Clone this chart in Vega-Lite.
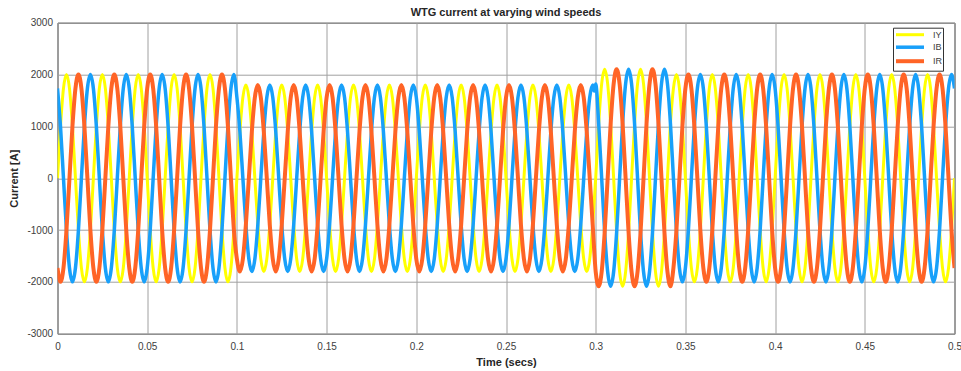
{
  "$schema": "https://vega.github.io/schema/vega-lite/v6.json",
  "width": 897,
  "height": 311,
  "autosize": {"type": "none"},
  "padding": {"left": 57.5, "top": 22.7, "right": 6.5, "bottom": 37.3},
  "background": "white",
  "title": {
    "text": "WTG current at varying wind speeds",
    "font": "Liberation Sans",
    "fontSize": 11,
    "fontWeight": "bold",
    "color": "#262626",
    "anchor": "middle",
    "offset": -0.5
  },
  "data": {
    "values": [
      {"t":0,"IY":0,"IB":1732,"IR":-1732},{"t":0.00167,"IY":1000,"IB":1000,"IR":-2000},{"t":0.00333,"IY":1732,"IB":0,"IR":-1732},{"t":0.005,"IY":2000,"IB":-1000,"IR":-1000},{"t":0.00667,"IY":1732,"IB":-1732,"IR":0},{"t":0.00833,"IY":1000,"IB":-2000,"IR":1000},{"t":0.01,"IY":0,"IB":-1732,"IR":1732},{"t":0.01167,"IY":-1000,"IB":-1000,"IR":2000},{"t":0.01333,"IY":-1732,"IB":0,"IR":1732},{"t":0.015,"IY":-2000,"IB":1000,"IR":1000},{"t":0.01667,"IY":-1732,"IB":1732,"IR":0},{"t":0.01833,"IY":-1000,"IB":2000,"IR":-1000},
      {"t":0.02,"IY":0,"IB":1732,"IR":-1732},{"t":0.02167,"IY":1000,"IB":1000,"IR":-2000},{"t":0.02333,"IY":1732,"IB":0,"IR":-1732},{"t":0.025,"IY":2000,"IB":-1000,"IR":-1000},{"t":0.02667,"IY":1732,"IB":-1732,"IR":0},{"t":0.02833,"IY":1000,"IB":-2000,"IR":1000},{"t":0.03,"IY":0,"IB":-1732,"IR":1732},{"t":0.03167,"IY":-1000,"IB":-1000,"IR":2000},{"t":0.03333,"IY":-1732,"IB":0,"IR":1732},{"t":0.035,"IY":-2000,"IB":1000,"IR":1000},{"t":0.03667,"IY":-1732,"IB":1732,"IR":0},{"t":0.03833,"IY":-1000,"IB":2000,"IR":-1000},
      {"t":0.04,"IY":0,"IB":1732,"IR":-1732},{"t":0.04167,"IY":1000,"IB":1000,"IR":-2000},{"t":0.04333,"IY":1732,"IB":0,"IR":-1732},{"t":0.045,"IY":2000,"IB":-1000,"IR":-1000},{"t":0.04667,"IY":1732,"IB":-1732,"IR":0},{"t":0.04833,"IY":1000,"IB":-2000,"IR":1000},{"t":0.05,"IY":0,"IB":-1732,"IR":1732},{"t":0.05167,"IY":-1000,"IB":-1000,"IR":2000},{"t":0.05333,"IY":-1732,"IB":0,"IR":1732},{"t":0.055,"IY":-2000,"IB":1000,"IR":1000},{"t":0.05667,"IY":-1732,"IB":1732,"IR":0},{"t":0.05833,"IY":-1000,"IB":2000,"IR":-1000},
      {"t":0.06,"IY":0,"IB":1732,"IR":-1732},{"t":0.06167,"IY":1000,"IB":1000,"IR":-2000},{"t":0.06333,"IY":1732,"IB":0,"IR":-1732},{"t":0.065,"IY":2000,"IB":-1000,"IR":-1000},{"t":0.06667,"IY":1732,"IB":-1732,"IR":0},{"t":0.06833,"IY":1000,"IB":-2000,"IR":1000},{"t":0.07,"IY":0,"IB":-1732,"IR":1732},{"t":0.07167,"IY":-1000,"IB":-1000,"IR":2000},{"t":0.07333,"IY":-1732,"IB":0,"IR":1732},{"t":0.075,"IY":-2000,"IB":1000,"IR":1000},{"t":0.07667,"IY":-1732,"IB":1732,"IR":0},{"t":0.07833,"IY":-1000,"IB":2000,"IR":-1000},
      {"t":0.08,"IY":0,"IB":1732,"IR":-1732},{"t":0.08167,"IY":1000,"IB":1000,"IR":-2000},{"t":0.08333,"IY":1732,"IB":0,"IR":-1732},{"t":0.085,"IY":2000,"IB":-1000,"IR":-1000},{"t":0.08667,"IY":1732,"IB":-1732,"IR":0},{"t":0.08833,"IY":1000,"IB":-2000,"IR":1000},{"t":0.09,"IY":0,"IB":-1732,"IR":1732},{"t":0.09167,"IY":-1000,"IB":-1000,"IR":2000},{"t":0.09333,"IY":-1732,"IB":0,"IR":1732},{"t":0.095,"IY":-2000,"IB":1000,"IR":1000},{"t":0.09667,"IY":-1732,"IB":1732,"IR":0},{"t":0.09833,"IY":-1000,"IB":2000,"IR":-1000},
      {"t":0.1,"IY":0,"IB":1559,"IR":-1559},{"t":0.10167,"IY":900,"IB":900,"IR":-1800},{"t":0.10333,"IY":1559,"IB":0,"IR":-1559},{"t":0.105,"IY":1800,"IB":-900,"IR":-900},{"t":0.10667,"IY":1559,"IB":-1559,"IR":0},{"t":0.10833,"IY":900,"IB":-1800,"IR":900},{"t":0.11,"IY":0,"IB":-1559,"IR":1559},{"t":0.11167,"IY":-900,"IB":-900,"IR":1800},{"t":0.11333,"IY":-1559,"IB":0,"IR":1559},{"t":0.115,"IY":-1800,"IB":900,"IR":900},{"t":0.11667,"IY":-1559,"IB":1559,"IR":0},{"t":0.11833,"IY":-900,"IB":1800,"IR":-900},
      {"t":0.12,"IY":0,"IB":1559,"IR":-1559},{"t":0.12167,"IY":900,"IB":900,"IR":-1800},{"t":0.12333,"IY":1559,"IB":0,"IR":-1559},{"t":0.125,"IY":1800,"IB":-900,"IR":-900},{"t":0.12667,"IY":1559,"IB":-1559,"IR":0},{"t":0.12833,"IY":900,"IB":-1800,"IR":900},{"t":0.13,"IY":0,"IB":-1559,"IR":1559},{"t":0.13167,"IY":-900,"IB":-900,"IR":1800},{"t":0.13333,"IY":-1559,"IB":0,"IR":1559},{"t":0.135,"IY":-1800,"IB":900,"IR":900},{"t":0.13667,"IY":-1559,"IB":1559,"IR":0},{"t":0.13833,"IY":-900,"IB":1800,"IR":-900},
      {"t":0.14,"IY":0,"IB":1559,"IR":-1559},{"t":0.14167,"IY":900,"IB":900,"IR":-1800},{"t":0.14333,"IY":1559,"IB":0,"IR":-1559},{"t":0.145,"IY":1800,"IB":-900,"IR":-900},{"t":0.14667,"IY":1559,"IB":-1559,"IR":0},{"t":0.14833,"IY":900,"IB":-1800,"IR":900},{"t":0.15,"IY":0,"IB":-1559,"IR":1559},{"t":0.15167,"IY":-900,"IB":-900,"IR":1800},{"t":0.15333,"IY":-1559,"IB":0,"IR":1559},{"t":0.155,"IY":-1800,"IB":900,"IR":900},{"t":0.15667,"IY":-1559,"IB":1559,"IR":0},{"t":0.15833,"IY":-900,"IB":1800,"IR":-900},
      {"t":0.16,"IY":0,"IB":1559,"IR":-1559},{"t":0.16167,"IY":900,"IB":900,"IR":-1800},{"t":0.16333,"IY":1559,"IB":0,"IR":-1559},{"t":0.165,"IY":1800,"IB":-900,"IR":-900},{"t":0.16667,"IY":1559,"IB":-1559,"IR":0},{"t":0.16833,"IY":900,"IB":-1800,"IR":900},{"t":0.17,"IY":0,"IB":-1559,"IR":1559},{"t":0.17167,"IY":-900,"IB":-900,"IR":1800},{"t":0.17333,"IY":-1559,"IB":0,"IR":1559},{"t":0.175,"IY":-1800,"IB":900,"IR":900},{"t":0.17667,"IY":-1559,"IB":1559,"IR":0},{"t":0.17833,"IY":-900,"IB":1800,"IR":-900},
      {"t":0.18,"IY":0,"IB":1559,"IR":-1559},{"t":0.18167,"IY":900,"IB":900,"IR":-1800},{"t":0.18333,"IY":1559,"IB":0,"IR":-1559},{"t":0.185,"IY":1800,"IB":-900,"IR":-900},{"t":0.18667,"IY":1559,"IB":-1559,"IR":0},{"t":0.18833,"IY":900,"IB":-1800,"IR":900},{"t":0.19,"IY":0,"IB":-1559,"IR":1559},{"t":0.19167,"IY":-900,"IB":-900,"IR":1800},{"t":0.19333,"IY":-1559,"IB":0,"IR":1559},{"t":0.195,"IY":-1800,"IB":900,"IR":900},{"t":0.19667,"IY":-1559,"IB":1559,"IR":0},{"t":0.19833,"IY":-900,"IB":1800,"IR":-900},
      {"t":0.2,"IY":0,"IB":1559,"IR":-1559},{"t":0.20167,"IY":900,"IB":900,"IR":-1800},{"t":0.20333,"IY":1559,"IB":0,"IR":-1559},{"t":0.205,"IY":1800,"IB":-900,"IR":-900},{"t":0.20667,"IY":1559,"IB":-1559,"IR":0},{"t":0.20833,"IY":900,"IB":-1800,"IR":900},{"t":0.21,"IY":0,"IB":-1559,"IR":1559},{"t":0.21167,"IY":-900,"IB":-900,"IR":1800},{"t":0.21333,"IY":-1559,"IB":0,"IR":1559},{"t":0.215,"IY":-1800,"IB":900,"IR":900},{"t":0.21667,"IY":-1559,"IB":1559,"IR":0},{"t":0.21833,"IY":-900,"IB":1800,"IR":-900},
      {"t":0.22,"IY":0,"IB":1559,"IR":-1559},{"t":0.22167,"IY":900,"IB":900,"IR":-1800},{"t":0.22333,"IY":1559,"IB":0,"IR":-1559},{"t":0.225,"IY":1800,"IB":-900,"IR":-900},{"t":0.22667,"IY":1559,"IB":-1559,"IR":0},{"t":0.22833,"IY":900,"IB":-1800,"IR":900},{"t":0.23,"IY":0,"IB":-1559,"IR":1559},{"t":0.23167,"IY":-900,"IB":-900,"IR":1800},{"t":0.23333,"IY":-1559,"IB":0,"IR":1559},{"t":0.235,"IY":-1800,"IB":900,"IR":900},{"t":0.23667,"IY":-1559,"IB":1559,"IR":0},{"t":0.23833,"IY":-900,"IB":1800,"IR":-900},
      {"t":0.24,"IY":0,"IB":1559,"IR":-1559},{"t":0.24167,"IY":900,"IB":900,"IR":-1800},{"t":0.24333,"IY":1559,"IB":0,"IR":-1559},{"t":0.245,"IY":1800,"IB":-900,"IR":-900},{"t":0.24667,"IY":1559,"IB":-1559,"IR":0},{"t":0.24833,"IY":900,"IB":-1800,"IR":900},{"t":0.25,"IY":0,"IB":-1559,"IR":1559},{"t":0.25167,"IY":-900,"IB":-900,"IR":1800},{"t":0.25333,"IY":-1559,"IB":0,"IR":1559},{"t":0.255,"IY":-1800,"IB":900,"IR":900},{"t":0.25667,"IY":-1559,"IB":1559,"IR":0},{"t":0.25833,"IY":-900,"IB":1800,"IR":-900},
      {"t":0.26,"IY":0,"IB":1559,"IR":-1559},{"t":0.26167,"IY":900,"IB":900,"IR":-1800},{"t":0.26333,"IY":1559,"IB":0,"IR":-1559},{"t":0.265,"IY":1800,"IB":-900,"IR":-900},{"t":0.26667,"IY":1559,"IB":-1559,"IR":0},{"t":0.26833,"IY":900,"IB":-1800,"IR":900},{"t":0.27,"IY":0,"IB":-1559,"IR":1559},{"t":0.27167,"IY":-900,"IB":-900,"IR":1800},{"t":0.27333,"IY":-1559,"IB":0,"IR":1559},{"t":0.275,"IY":-1800,"IB":900,"IR":900},{"t":0.27667,"IY":-1559,"IB":1559,"IR":0},{"t":0.27833,"IY":-900,"IB":1800,"IR":-900},
      {"t":0.28,"IY":0,"IB":1559,"IR":-1559},{"t":0.28167,"IY":900,"IB":900,"IR":-1800},{"t":0.28333,"IY":1559,"IB":0,"IR":-1559},{"t":0.285,"IY":1800,"IB":-900,"IR":-900},{"t":0.28667,"IY":1559,"IB":-1559,"IR":0},{"t":0.28833,"IY":900,"IB":-1800,"IR":900},{"t":0.29,"IY":0,"IB":-1559,"IR":1559},{"t":0.29167,"IY":-900,"IB":-900,"IR":1800},{"t":0.29333,"IY":-1559,"IB":0,"IR":1559},{"t":0.295,"IY":-1800,"IB":900,"IR":900},{"t":0.29667,"IY":-1559,"IB":1559,"IR":0},{"t":0.29833,"IY":-900,"IB":1800,"IR":-900},
      {"t":0.2992,"IB":1680},
      {"t":0.3,"IY":0,"IB":1819,"IR":-1806},{"t":0.30167,"IY":1050,"IB":1050,"IR":-2085},{"t":0.30333,"IY":1819,"IB":0,"IR":-1806},{"t":0.305,"IY":2100,"IB":-1045,"IR":-1045},{"t":0.30667,"IY":1819,"IB":-1806,"IR":0},{"t":0.30833,"IY":1050,"IB":-2085,"IR":1050},{"t":0.31,"IY":0,"IB":-1806,"IR":1819},{"t":0.31167,"IY":-1045,"IB":-1045,"IR":2100},{"t":0.31333,"IY":-1806,"IB":0,"IR":1819},{"t":0.315,"IY":-2085,"IB":1050,"IR":1050},{"t":0.31667,"IY":-1806,"IB":1819,"IR":0},{"t":0.31833,"IY":-1045,"IB":2100,"IR":-1045},
      {"t":0.32,"IY":0,"IB":1819,"IR":-1806},{"t":0.32167,"IY":1050,"IB":1050,"IR":-2085},{"t":0.32333,"IY":1819,"IB":0,"IR":-1806},{"t":0.325,"IY":2100,"IB":-1045,"IR":-1045},{"t":0.32667,"IY":1819,"IB":-1806,"IR":0},{"t":0.32833,"IY":1050,"IB":-2085,"IR":1050},{"t":0.33,"IY":0,"IB":-1806,"IR":1819},{"t":0.33167,"IY":-1045,"IB":-1045,"IR":2100},{"t":0.33333,"IY":-1806,"IB":0,"IR":1819},{"t":0.335,"IY":-2085,"IB":1050,"IR":1050},{"t":0.33667,"IY":-1806,"IB":1819,"IR":0},{"t":0.33833,"IY":-1045,"IB":2100,"IR":-1045},
      {"t":0.34,"IY":0,"IB":1819,"IR":-1806},{"t":0.34167,"IY":1050,"IB":1050,"IR":-2085},{"t":0.34333,"IY":1732,"IB":0,"IR":-1732},{"t":0.345,"IY":2000,"IB":-1000,"IR":-1000},{"t":0.34667,"IY":1732,"IB":-1732,"IR":0},{"t":0.34833,"IY":1000,"IB":-2000,"IR":1000},{"t":0.35,"IY":0,"IB":-1732,"IR":1732},{"t":0.35167,"IY":-1000,"IB":-1000,"IR":2000},{"t":0.35333,"IY":-1732,"IB":0,"IR":1732},{"t":0.355,"IY":-2000,"IB":1000,"IR":1000},{"t":0.35667,"IY":-1732,"IB":1732,"IR":0},{"t":0.35833,"IY":-1000,"IB":2000,"IR":-1000},
      {"t":0.36,"IY":0,"IB":1732,"IR":-1732},{"t":0.36167,"IY":1000,"IB":1000,"IR":-2000},{"t":0.36333,"IY":1732,"IB":0,"IR":-1732},{"t":0.365,"IY":2000,"IB":-1000,"IR":-1000},{"t":0.36667,"IY":1732,"IB":-1732,"IR":0},{"t":0.36833,"IY":1000,"IB":-2000,"IR":1000},{"t":0.37,"IY":0,"IB":-1732,"IR":1732},{"t":0.37167,"IY":-1000,"IB":-1000,"IR":2000},{"t":0.37333,"IY":-1732,"IB":0,"IR":1732},{"t":0.375,"IY":-2000,"IB":1000,"IR":1000},{"t":0.37667,"IY":-1732,"IB":1732,"IR":0},{"t":0.37833,"IY":-1000,"IB":2000,"IR":-1000},
      {"t":0.38,"IY":0,"IB":1732,"IR":-1732},{"t":0.38167,"IY":1000,"IB":1000,"IR":-2000},{"t":0.38333,"IY":1732,"IB":0,"IR":-1732},{"t":0.385,"IY":2000,"IB":-1000,"IR":-1000},{"t":0.38667,"IY":1732,"IB":-1732,"IR":0},{"t":0.38833,"IY":1000,"IB":-2000,"IR":1000},{"t":0.39,"IY":0,"IB":-1732,"IR":1732},{"t":0.39167,"IY":-1000,"IB":-1000,"IR":2000},{"t":0.39333,"IY":-1732,"IB":0,"IR":1732},{"t":0.395,"IY":-2000,"IB":1000,"IR":1000},{"t":0.39667,"IY":-1732,"IB":1732,"IR":0},{"t":0.39833,"IY":-1000,"IB":2000,"IR":-1000},
      {"t":0.4,"IY":0,"IB":1732,"IR":-1732},{"t":0.40167,"IY":1000,"IB":1000,"IR":-2000},{"t":0.40333,"IY":1732,"IB":0,"IR":-1732},{"t":0.405,"IY":2000,"IB":-1000,"IR":-1000},{"t":0.40667,"IY":1732,"IB":-1732,"IR":0},{"t":0.40833,"IY":1000,"IB":-2000,"IR":1000},{"t":0.41,"IY":0,"IB":-1732,"IR":1732},{"t":0.41167,"IY":-1000,"IB":-1000,"IR":2000},{"t":0.41333,"IY":-1732,"IB":0,"IR":1732},{"t":0.415,"IY":-2000,"IB":1000,"IR":1000},{"t":0.41667,"IY":-1732,"IB":1732,"IR":0},{"t":0.41833,"IY":-1000,"IB":2000,"IR":-1000},
      {"t":0.42,"IY":0,"IB":1732,"IR":-1732},{"t":0.42167,"IY":1000,"IB":1000,"IR":-2000},{"t":0.42333,"IY":1732,"IB":0,"IR":-1732},{"t":0.425,"IY":2000,"IB":-1000,"IR":-1000},{"t":0.42667,"IY":1732,"IB":-1732,"IR":0},{"t":0.42833,"IY":1000,"IB":-2000,"IR":1000},{"t":0.43,"IY":0,"IB":-1732,"IR":1732},{"t":0.43167,"IY":-1000,"IB":-1000,"IR":2000},{"t":0.43333,"IY":-1732,"IB":0,"IR":1732},{"t":0.435,"IY":-2000,"IB":1000,"IR":1000},{"t":0.43667,"IY":-1732,"IB":1732,"IR":0},{"t":0.43833,"IY":-1000,"IB":2000,"IR":-1000},
      {"t":0.44,"IY":0,"IB":1732,"IR":-1732},{"t":0.44167,"IY":1000,"IB":1000,"IR":-2000},{"t":0.44333,"IY":1732,"IB":0,"IR":-1732},{"t":0.445,"IY":2000,"IB":-1000,"IR":-1000},{"t":0.44667,"IY":1732,"IB":-1732,"IR":0},{"t":0.44833,"IY":1000,"IB":-2000,"IR":1000},{"t":0.45,"IY":0,"IB":-1732,"IR":1732},{"t":0.45167,"IY":-1000,"IB":-1000,"IR":2000},{"t":0.45333,"IY":-1732,"IB":0,"IR":1732},{"t":0.455,"IY":-2000,"IB":1000,"IR":1000},{"t":0.45667,"IY":-1732,"IB":1732,"IR":0},{"t":0.45833,"IY":-1000,"IB":2000,"IR":-1000},
      {"t":0.46,"IY":0,"IB":1732,"IR":-1732},{"t":0.46167,"IY":1000,"IB":1000,"IR":-2000},{"t":0.46333,"IY":1732,"IB":0,"IR":-1732},{"t":0.465,"IY":2000,"IB":-1000,"IR":-1000},{"t":0.46667,"IY":1732,"IB":-1732,"IR":0},{"t":0.46833,"IY":1000,"IB":-2000,"IR":1000},{"t":0.47,"IY":0,"IB":-1732,"IR":1732},{"t":0.47167,"IY":-1000,"IB":-1000,"IR":2000},{"t":0.47333,"IY":-1732,"IB":0,"IR":1732},{"t":0.475,"IY":-2000,"IB":1000,"IR":1000},{"t":0.47667,"IY":-1732,"IB":1732,"IR":0},{"t":0.47833,"IY":-1000,"IB":2000,"IR":-1000},
      {"t":0.48,"IY":0,"IB":1732,"IR":-1732},{"t":0.48167,"IY":1000,"IB":1000,"IR":-2000},{"t":0.48333,"IY":1732,"IB":0,"IR":-1732},{"t":0.485,"IY":2000,"IB":-1000,"IR":-1000},{"t":0.48667,"IY":1732,"IB":-1732,"IR":0},{"t":0.48833,"IY":1000,"IB":-2000,"IR":1000},{"t":0.49,"IY":0,"IB":-1732,"IR":1732},{"t":0.49167,"IY":-1000,"IB":-1000,"IR":2000},{"t":0.49333,"IY":-1732,"IB":0,"IR":1732},{"t":0.495,"IY":-2000,"IB":1000,"IR":1000},{"t":0.49667,"IY":-1732,"IB":1732,"IR":0},{"t":0.49833,"IY":-1000,"IB":2000,"IR":-1000},
      {"t":0.5,"IY":0,"IB":1732,"IR":-1732}
    ]
  },
  "transform": [
    {"fold": ["IY", "IB", "IR"], "as": ["phase", "current"]},
    {"filter": {"field": "current", "valid": true}}
  ],
  "mark": {"type": "line", "interpolate": "monotone", "clip": true},
  "encoding": {
    "x": {
      "field": "t",
      "type": "quantitative",
      "scale": {"domain": [0, 0.5], "nice": false, "zero": false},
      "axis": {
        "title": "Time (secs)",
        "values": [0, 0.05, 0.1, 0.15, 0.2, 0.25, 0.3, 0.35, 0.4, 0.45, 0.5],
        "labelExpr": "'' + datum.value",
        "labelFlush": false,
        "labelOverlap": false,
        "labelPadding": 8,
        "titlePadding": 5,
        "ticks": false,
        "domain": false,
        "grid": true
      }
    },
    "y": {
      "field": "current",
      "type": "quantitative",
      "scale": {"domain": [-3000, 3000], "nice": false},
      "axis": {
        "title": "Current [A]",
        "values": [-3000, -2000, -1000, 0, 1000, 2000, 3000],
        "labelExpr": "'' + datum.value",
        "labelPadding": 5,
        "titlePadding": 7,
        "ticks": false,
        "domain": false,
        "grid": true
      }
    },
    "color": {
      "field": "phase",
      "type": "nominal",
      "scale": {"domain": ["IY", "IB", "IR"], "range": ["#ffff00", "#18a0fa", "#ff6426"]},
      "legend": {
        "orient": "none",
        "legendX": 835.5,
        "legendY": 5,
        "title": null,
        "symbolType": "M-1,0H5.22",
        "symbolSize": 81,
        "symbolStrokeWidth": 3,
        "labelFont": "Liberation Sans",
        "labelFontSize": 9,
        "labelColor": "#404040",
        "labelOffset": 26,
        "fillColor": "white",
        "strokeColor": "#333333",
        "padding": 1,
        "rowPadding": -5
      }
    },
    "strokeWidth": {
      "field": "phase",
      "type": "ordinal",
      "scale": {"domain": ["IY", "IB", "IR"], "range": [3, 4, 3.5]},
      "legend": null
    }
  },
  "config": {
    "view": {"stroke": "#333333", "strokeWidth": 1},
    "axis": {
      "labelFont": "Liberation Sans",
      "labelFontSize": 10,
      "labelColor": "#404040",
      "titleFont": "Liberation Sans",
      "titleFontSize": 11,
      "titleFontWeight": "bold",
      "titleColor": "#262626",
      "gridColor": "#a0a0a0",
      "gridWidth": 1,
      "gridOpacity": 1
    }
  }
}
